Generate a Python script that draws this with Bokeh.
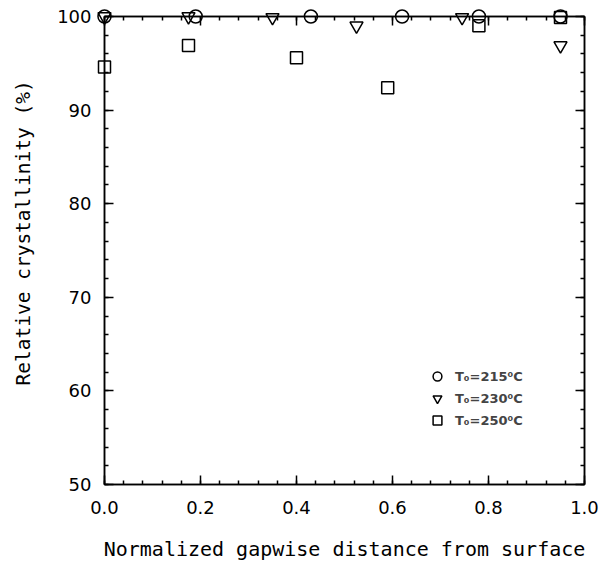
from bokeh.plotting import figure
from bokeh.models import (LinearAxis, FixedTicker, Legend, LegendItem, Range1d,
                          CustomJSTickFormatter)
from bokeh.embed import file_html
from bokeh.resources import INLINE

# data
x215 = [0.0, 0.19, 0.43, 0.62, 0.78, 0.95]
y215 = [100, 100, 100, 100, 100, 100]
x230 = [0.0, 0.175, 0.35, 0.525, 0.745, 0.95]
y230 = [100, 100, 99.9, 99.0, 99.9, 96.9]
x250 = [0.0, 0.175, 0.40, 0.59, 0.78, 0.95]
y250 = [94.6, 96.9, 95.6, 92.4, 99.0, 99.9]
labels = ["T\u2080=215\u2070C", "T\u2080=230\u2070C", "T\u2080=250\u2070C"]
x_major = [0.0, 0.2, 0.4, 0.6, 0.8, 1.0]
x_minor = [round(i * 0.04, 2) for i in range(26)]
y_major = [50, 60, 70, 80, 90, 100]
y_minor = list(range(50, 101, 2))

FONT = "DejaVu Sans"
TFONT = "DejaVu Sans Mono"

p = figure(width=600, height=563, output_backend="svg", toolbar_location=None,
           x_range=Range1d(0, 1), y_range=Range1d(50, 100),
           x_axis_type=None, y_axis_type=None,
           min_border_left=104, min_border_right=16,
           min_border_top=16, min_border_bottom=79)
p.grid.visible = False
p.outline_line_color = "black"
p.outline_line_width = 1.5
p.background_fill_color = "white"
p.border_fill_color = "white"

def make_axis(kind, show_labels, label=""):
    ax = LinearAxis()
    if kind == "x":
        ax.ticker = FixedTicker(ticks=x_major, minor_ticks=x_minor)
        ax.formatter = CustomJSTickFormatter(code="return tick.toFixed(1);")
    else:
        ax.ticker = FixedTicker(ticks=y_major, minor_ticks=y_minor)
        ax.formatter = CustomJSTickFormatter(code="return tick.toFixed(0);")
    ax.major_tick_in = 9
    ax.major_tick_out = 0
    ax.minor_tick_in = 4
    ax.minor_tick_out = 0
    ax.axis_line_color = "black"
    ax.axis_line_width = 1.5
    ax.major_tick_line_width = 1.5
    ax.minor_tick_line_width = 1.5
    ax.major_label_text_font = FONT
    ax.major_label_text_font_size = "18px"
    ax.major_label_text_color = "black" if show_labels else None
    ax.axis_label = label
    ax.axis_label_text_font = TFONT
    ax.axis_label_text_font_size = "20px"
    ax.axis_label_text_font_style = "normal"
    ax.axis_label_text_color = "black"
    return ax

xb = make_axis("x", True, "Normalized gapwise distance from surface")
xb.major_label_standoff = 16
xb.axis_label_standoff = 20
yl = make_axis("y", True, "\u00a0\u00a0\u00a0Relative crystallinity (%)")
yl.axis_label_text_font_size = "19.5px"
yl.major_label_standoff = 13
yl.axis_label_standoff = 19
xt = make_axis("x", False)
yr = make_axis("y", False)
xt.major_label_text_font_size = "0px"
yr.major_label_text_font_size = "0px"
p.add_layout(xb, "below")
p.add_layout(yl, "left")
p.add_layout(xt, "above")
p.add_layout(yr, "right")

kw = dict(fill_color=None, line_color="black", line_width=1.5, level="overlay")
r1 = p.scatter(x215, y215, marker="circle", size=13, **kw)
r2 = p.scatter(x230, y230, marker="inverted_triangle", size=13, **kw)
r3 = p.scatter(x250, y250, marker="square", size=12, **kw)

legend = Legend(items=[LegendItem(label=labels[0], renderers=[r1]),
                       LegendItem(label=labels[1], renderers=[r2]),
                       LegendItem(label=labels[2], renderers=[r3])],
                location=(322, 53), margin=0, padding=4, spacing=0,
                label_text_font=FONT, label_text_font_size="13px",
                label_text_font_style="bold",
                glyph_width=22, glyph_height=22, label_standoff=7,
                border_line_color=None, background_fill_alpha=0)
p.add_layout(legend, "center")

open("out.html", "w").write(file_html(p, INLINE))
